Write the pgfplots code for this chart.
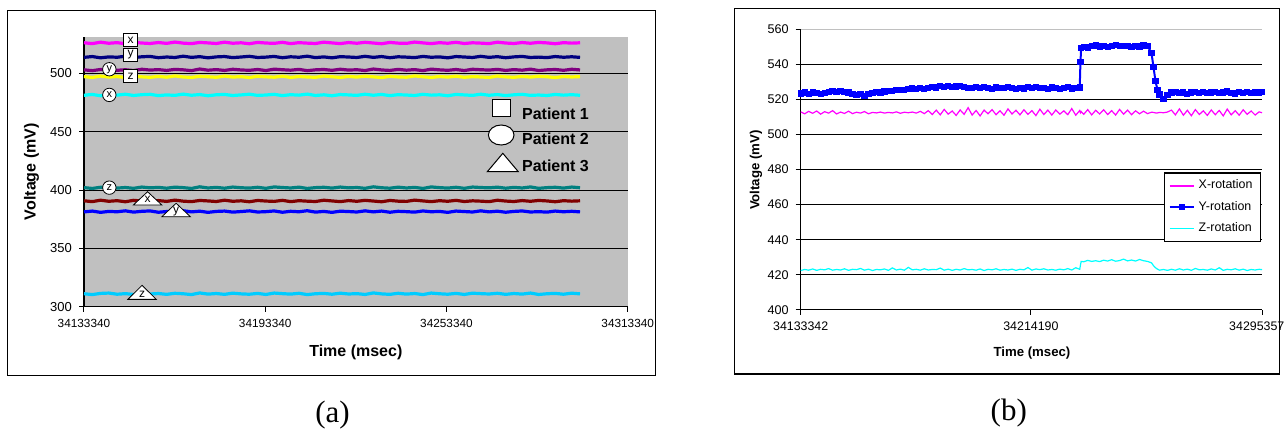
\documentclass[border=0pt]{standalone}
\usepackage{fontspec}
\setmainfont{Liberation Sans}
\newfontfamily\capfont{Liberation Serif}
\usepackage{pgfplots}
\usepackage{pgfplotstable}
\pgfplotsset{compat=1.18}

\definecolor{xmag}{RGB}{255,0,255}
\definecolor{xnavy}{RGB}{0,0,128}
\definecolor{xpurp}{RGB}{128,0,128}
\definecolor{xyel}{RGB}{255,255,0}
\definecolor{xcyan}{RGB}{0,255,255}
\definecolor{xteal}{RGB}{0,128,128}
\definecolor{xdred}{RGB}{128,0,0}
\definecolor{xblue}{RGB}{0,0,255}
\definecolor{xsky}{RGB}{0,204,255}
\definecolor{xgray}{RGB}{192,192,192}

% Panel (a): nine sensor channels (3 patients x 3 axes)
\pgfplotstableread{
t m n p yl c tl r b s
34133340 526.3 513.8 503.1 497.3 481.3 402.1 390.8 381.3 311.1
34136077 525.6 514.5 502.4 496.6 482.0 401.4 390.1 382.0 310.4
34138814 526.8 513.4 503.4 497.8 480.9 402.4 391.3 380.9 311.4
34141551 525.9 514.2 503.7 496.9 481.7 402.7 390.4 381.7 311.7
34144288 526.4 513.9 502.7 497.4 481.4 401.7 390.9 381.4 310.7
34147025 525.5 514.7 503.2 496.5 482.2 402.2 390.0 382.2 311.2
34149762 526.7 513.6 502.5 497.7 481.1 401.5 391.2 381.1 310.5
34152499 526.1 514.3 503.6 497.1 481.8 402.6 390.6 381.8 311.6
34155236 525.7 514.6 502.9 496.7 482.1 401.9 390.2 382.1 310.9
34157973 526.5 513.5 503.3 497.5 481.0 402.3 391.0 381.0 311.3
34160710 525.8 514.1 502.6 496.8 481.6 401.6 390.3 381.6 310.6
34163447 526.9 513.7 503.5 497.9 481.2 402.5 391.4 381.2 311.5
34166184 526.0 514.8 503.1 497.0 482.3 402.1 390.5 382.3 311.1
34168921 525.6 513.8 502.4 496.6 481.3 401.4 390.1 381.3 310.4
34171658 526.6 514.4 503.8 497.6 481.9 402.8 391.1 381.9 311.8
34174395 526.2 513.4 502.8 497.2 480.9 401.8 390.7 380.9 310.8
34177132 525.7 514.2 503.3 496.7 481.7 402.3 390.2 381.7 311.3
34179869 526.8 514.5 502.6 497.8 482.0 401.6 391.3 382.0 310.6
34182606 525.9 513.6 503.6 496.9 481.1 402.6 390.4 381.1 311.6
34185343 526.3 514.1 503.0 497.3 481.6 402.0 390.8 381.6 311.0
34188080 525.5 514.7 502.7 496.5 482.2 401.7 390.0 382.2 310.7
34190817 526.6 513.7 503.4 497.6 481.2 402.4 391.1 381.2 311.4
34193554 526.1 514.0 502.5 497.1 481.5 401.5 390.6 381.5 310.5
34196291 525.8 514.6 503.7 496.8 482.1 402.7 390.3 382.1 311.7
34199028 526.7 513.5 503.2 497.7 481.0 402.2 391.2 381.0 311.2
34201765 525.6 514.3 502.8 496.6 481.8 401.8 390.1 381.8 310.8
34204502 526.4 513.9 503.5 497.4 481.4 402.5 390.9 381.4 311.5
34207239 526.0 514.8 502.4 497.0 482.3 401.4 390.5 382.3 310.4
34209976 525.7 513.6 503.1 496.7 481.1 402.1 390.2 381.1 311.1
34212713 526.8 514.2 503.4 497.8 481.7 402.4 391.3 381.7 311.4
34215450 526.2 513.4 502.7 497.2 480.9 401.7 390.7 380.9 310.7
34218187 525.6 514.4 503.6 496.6 481.9 402.6 390.1 381.9 311.6
34220924 526.5 514.1 502.9 497.5 481.6 401.9 391.0 381.6 310.9
34223661 525.9 513.7 503.2 496.9 481.2 402.2 390.4 381.2 311.2
34226398 526.7 514.7 502.5 497.7 482.2 401.5 391.2 382.2 310.5
34229135 526.1 513.8 503.8 497.1 481.3 402.8 390.6 381.3 311.8
34231872 525.5 514.5 503.0 496.5 482.0 402.0 390.0 382.0 311.0
34234609 526.6 513.5 502.6 497.6 481.0 401.6 391.1 381.0 310.6
34237346 526.0 514.3 503.5 497.0 481.8 402.5 390.5 381.8 311.5
34240083 525.8 514.0 502.8 496.8 481.5 401.8 390.3 381.5 310.8
34242820 526.9 513.6 503.3 497.9 481.1 402.3 391.4 381.1 311.3
34245557 526.2 514.6 502.4 497.2 482.1 401.4 390.7 382.1 310.4
34248294 525.6 513.9 503.7 496.6 481.4 402.7 390.1 381.4 311.7
34251031 526.4 514.2 503.1 497.4 481.7 402.1 390.9 381.7 311.1
34253768 525.9 513.4 502.7 496.9 480.9 401.7 390.4 380.9 310.7
34256505 526.7 514.5 503.4 497.7 482.0 402.4 391.2 382.0 311.4
34259242 525.7 514.1 502.5 496.7 481.6 401.5 390.2 381.6 310.5
34261979 526.3 513.7 503.6 497.3 481.2 402.6 390.8 381.2 311.6
34264716 526.0 514.7 503.2 497.0 482.2 402.2 390.5 382.2 311.2
34267453 525.6 513.8 502.9 496.6 481.3 401.9 390.1 381.3 310.9
34270190 526.8 514.4 503.5 497.8 481.9 402.5 391.3 381.9 311.5
34272927 526.1 513.5 502.6 497.1 481.0 401.6 390.6 381.0 310.6
34275664 525.7 514.2 503.3 496.7 481.7 402.3 390.2 381.7 311.3
34278401 526.5 514.6 502.8 497.5 482.1 401.8 391.0 382.1 310.8
34281138 525.9 513.7 503.7 496.9 481.2 402.7 390.4 381.2 311.7
34283875 526.6 514.0 502.5 497.6 481.5 401.5 391.1 381.5 310.5
34286612 526.2 513.6 503.1 497.2 481.1 402.1 390.7 381.1 311.1
34289349 525.5 514.5 503.4 496.5 482.0 402.4 390.0 382.0 311.4
34292086 526.4 513.9 502.7 497.4 481.4 401.7 390.9 381.4 310.7
34294823 526.0 514.3 503.6 497.0 481.8 402.6 390.5 381.8 311.6
34297560 526.3 513.8 503.0 497.3 481.3 402.0 390.8 381.3 311.0
}\tableA

% Panel (b): X, Y, Z rotation
\pgfplotstableread{
t rx ry rz
34133342 512.9 523.4 422.4
34134742 511.8 523.9 423.0
34136142 513.2 523.2 422.6
34137542 512.1 524.0 423.3
34138942 513.4 523.6 422.5
34140342 511.6 523.1 423.1
34141742 513.0 523.8 422.8
34143142 512.2 524.3 423.5
34144542 513.6 524.6 422.6
34145942 511.7 524.1 423.0
34147342 512.8 524.8 422.7
34148742 512.0 524.4 423.4
34150142 513.3 523.9 422.5
34151542 511.9 523.3 423.1
34152942 512.7 522.6 422.9
34154342 512.2 522.9 423.6
34155742 513.1 521.8 422.6
34157142 511.8 523.0 423.2
34158542 512.6 523.6 422.4
34159942 512.3 524.2 423.0
34161342 512.8 523.9 422.8
34162742 512.2 524.5 423.3
34164142 512.6 524.9 422.5
34165542 512.3 524.6 423.9
34166942 512.9 525.2 422.7
34168342 512.1 525.6 423.2
34169742 512.7 525.3 422.6
34171142 512.4 525.9 424.2
34172542 512.8 526.2 422.8
34173942 512.2 525.8 423.1
34175342 513.2 526.4 422.6
34176742 511.9 526.1 423.4
34178142 513.6 526.7 422.7
34179542 511.4 527.3 423.0
34180942 513.9 526.8 422.9
34182342 511.2 527.5 423.8
34183742 514.3 527.0 422.6
34185142 511.6 527.6 423.2
34186542 513.4 526.9 422.5
34187942 510.9 527.4 423.1
34189342 514.0 527.8 422.7
34190742 511.5 527.1 423.5
34192142 515.3 526.7 422.8
34193542 511.1 526.3 423.0
34194942 513.7 526.9 422.6
34196342 510.6 526.4 423.3
34197742 513.9 527.2 422.4
34199142 511.8 526.5 423.1
34200542 514.2 526.1 422.8
34201942 511.3 526.8 423.4
34203342 513.5 526.3 422.6
34204742 511.0 526.6 423.0
34206142 514.6 527.3 422.7
34207542 511.7 526.4 423.2
34208942 513.8 526.0 422.5
34210342 511.2 526.7 423.1
34211742 514.1 526.2 422.8
34213142 511.5 526.9 424.1
34214542 513.6 526.5 422.6
34215942 510.8 527.0 423.3
34217342 514.4 526.3 422.9
34218742 511.4 526.6 423.4
34220142 513.9 526.1 422.7
34221542 511.1 526.8 423.0
34222942 514.0 526.4 422.6
34224342 511.6 525.9 423.2
34225742 513.5 526.5 422.8
34227142 511.3 527.1 423.5
34228542 514.8 526.2 422.7
34229942 511.0 526.6 424.0
34231342 513.7 526.8 423.1
34231592 512.4 541.3 425.5
34231842 513.1 549.2 427.6
34232742 511.5 550.1 427.4
34234142 514.2 549.6 428.2
34235542 511.2 550.4 427.6
34236942 513.8 550.8 428.0
34238342 511.7 550.2 427.5
34239742 514.1 550.6 428.3
34241142 511.4 549.9 427.8
34242542 513.6 550.5 428.6
34243942 511.1 550.9 427.7
34245342 514.3 550.3 428.1
34246742 511.6 550.7 428.9
34248142 513.9 550.4 427.9
34249542 511.3 550.0 428.4
34250942 513.5 550.6 427.8
34252342 511.8 550.2 428.7
34253742 513.3 550.8 428.0
34255142 511.9 550.5 427.6
34256542 512.7 546.5 426.8
34257242 512.6 538.5 425.2
34257942 512.3 530.5 424.0
34258642 512.3 525.5 423.2
34259342 512.6 522.8 422.6
34260742 512.4 520.4 423.0
34262142 512.8 522.6 422.5
34263542 513.9 523.9 423.1
34264942 511.2 524.2 422.6
34266342 514.6 523.6 423.4
34267742 511.0 524.0 422.7
34269142 513.8 523.3 423.2
34270542 510.7 523.9 422.5
34271942 514.2 524.4 423.6
34273342 511.4 523.7 422.8
34274742 513.5 524.1 423.0
34276142 510.9 523.5 422.6
34277542 514.0 523.9 423.3
34278942 511.3 524.3 422.7
34280342 513.7 523.6 424.0
34281742 510.6 524.0 422.5
34283142 514.5 524.5 423.1
34284542 511.2 523.7 422.8
34285942 513.6 523.4 423.4
34287342 511.0 524.1 422.6
34288742 514.1 523.8 423.2
34290142 511.5 524.2 422.4
34291542 513.4 523.6 423.0
34292942 511.1 524.0 422.7
34294342 512.9 523.9 423.1
34295357 512.4 524.1 422.9
}\tableB

\begin{document}
\begin{tikzpicture}
\useasboundingbox (0,0) rectangle (642.5pt,215pt);
\draw[line width=0.7pt] (3.65pt,27.15pt) rectangle (327.75pt,209.75pt);
\draw[line width=0.7pt] (367.35pt,28pt) rectangle (639.65pt,210.85pt);

% ---------------- panel (a) ----------------
\begin{axis}[
  at={(42pt,61.65pt)}, anchor=south west, scale only axis,
  width=271.85pt, height=134.7pt,
  xmin=34133340, xmax=34313340, ymin=300, ymax=531,
  axis lines=left, axis line style={-, line width=0.6pt, black},
  axis background/.style={fill=xgray},
  scaled x ticks=false, scaled y ticks=false,
  xtick={34133340,34193340,34253340,34313340},
  xticklabels={34133340,34193340,34253340,34313340},
  ytick={300,350,400,450,500},
  ymajorgrids, grid style={black, line width=0.5pt},
  tick align=outside, major tick length=2.5pt, tick style={black, line width=0.5pt},
  /pgf/number format/assume math mode=true,
  yticklabel style={font=\fontsize{6.5}{7}\selectfont},
  xticklabel style={font=\fontsize{5.9}{7}\selectfont},
  xlabel={Time (msec)}, ylabel={Voltage (mV)},
  label style={font=\fontsize{8}{9}\selectfont\bfseries},
  xlabel style={at={(axis description cs:0.5,-0.168)}, anchor=center},
  ylabel style={at={(axis description cs:-0.0964,0.501)}, anchor=center},
  clip=false,
]
\addplot[xnavy, line width=1.6pt, mark=none] table[x=t,y=n]{\tableA};
\addplot[xmag, line width=1.6pt, mark=none] table[x=t,y=m]{\tableA};
\addplot[xyel, line width=1.6pt, mark=none] table[x=t,y=yl]{\tableA};
\addplot[xcyan, line width=1.6pt, mark=none] table[x=t,y=c]{\tableA};
\addplot[xpurp, line width=1.6pt, mark=none] table[x=t,y=p]{\tableA};
\addplot[xdred, line width=1.6pt, mark=none] table[x=t,y=r]{\tableA};
\addplot[xteal, line width=1.6pt, mark=none] table[x=t,y=tl]{\tableA};
\addplot[xblue, line width=1.6pt, mark=none] table[x=t,y=b]{\tableA};
\addplot[xsky, line width=1.6pt, mark=none] table[x=t,y=s]{\tableA};

% Patient 1 (squares)
\node[draw, fill=white, line width=0.4pt, minimum width=7.2pt, minimum height=6.7pt, inner sep=0pt, font=\fontsize{6}{6}\selectfont] at (axis cs:34148755,528.7) {x};
\node[draw, fill=white, line width=0.4pt, minimum width=7.2pt, minimum height=6.7pt, inner sep=0pt, font=\fontsize{6}{6}\selectfont] at (axis cs:34148755,516.1) {y};
\node[draw, fill=white, line width=0.4pt, minimum width=7.2pt, minimum height=6.7pt, inner sep=0pt, font=\fontsize{6}{6}\selectfont] at (axis cs:34148755,497.9) {z};
% Patient 2 (circles)
\node[draw, fill=white, circle, line width=0.4pt, minimum size=6.7pt, inner sep=0pt, font=\fontsize{5.5}{6}\selectfont] at (axis cs:34141727,503.6) {y};
\node[draw, fill=white, circle, line width=0.4pt, minimum size=6.7pt, inner sep=0pt, font=\fontsize{5.5}{6}\selectfont] at (axis cs:34141727,481.6) {x};
\node[draw, fill=white, circle, line width=0.4pt, minimum size=6.7pt, inner sep=0pt, font=\fontsize{5.5}{6}\selectfont] at (axis cs:34141727,402.1) {z};
% Patient 3 (triangles)
\draw[fill=white, line width=0.4pt] (axis cs:34154390,387.2) ++(-7.1pt,0pt) -- ++(14.2pt,0pt) -- ++(-7.1pt,6.65pt) -- cycle;
\node[inner sep=0pt, yshift=2.6pt, font=\fontsize{6}{6}\selectfont] at (axis cs:34154390,387.2) {x};
\draw[fill=white, line width=0.4pt] (axis cs:34163838,377.2) ++(-7.1pt,0pt) -- ++(14.2pt,0pt) -- ++(-7.1pt,6.7pt) -- cycle;
\node[inner sep=0pt, yshift=2.6pt, font=\fontsize{6}{6}\selectfont] at (axis cs:34163838,377.2) {y};
\draw[fill=white, line width=0.4pt] (axis cs:34152567,306.3) ++(-7.1pt,0pt) -- ++(14.2pt,0pt) -- ++(-7.1pt,7pt) -- cycle;
\node[inner sep=0pt, yshift=2.6pt, font=\fontsize{6}{6}\selectfont] at (axis cs:34152567,306.3) {z};
\end{axis}

% patient key
\draw[fill=white, line width=0.5pt] (246.35pt,156.65pt) rectangle (255.35pt,165.35pt);
\node[anchor=west, inner sep=0pt, font=\fontsize{8}{9}\selectfont\bfseries] at (260.85pt,158.35pt) {Patient 1};
\draw[fill=white, line width=0.5pt] (250.6pt,147.5pt) ellipse (6.4pt and 5pt);
\node[anchor=west, inner sep=0pt, font=\fontsize{8}{9}\selectfont\bfseries] at (260.85pt,145.85pt) {Patient 2};
\draw[fill=white, line width=0.5pt] (243.65pt,129.15pt) -- (259.15pt,129.15pt) -- (251.4pt,138.35pt) -- cycle;
\node[anchor=west, inner sep=0pt, font=\fontsize{8}{9}\selectfont\bfseries] at (260.85pt,132pt) {Patient 3};

% ---------------- panel (b) ----------------
\begin{axis}[
  at={(400.35pt,60.1pt)}, anchor=south west, scale only axis,
  width=230.65pt, height=140.25pt,
  xmin=34133342, xmax=34295357, ymin=400, ymax=560,
  axis lines=left, axis line style={-, line width=0.6pt, black},
  scaled x ticks=false, scaled y ticks=false,
  xtick={34133342,34214190},
  xticklabels={34133342,34214190},
  extra x ticks={34295357},
  extra x tick labels={34295357},
  extra x tick style={xticklabel style={xshift=-2.6pt}},
  ytick={400,420,440,460,480,500,520,540},
  extra y ticks={560},
  extra y tick style={grid style={xgray, line width=0.5pt}},
  ymajorgrids, grid style={black, line width=0.5pt},
  tick align=outside, major tick length=2.5pt, tick style={black, line width=0.5pt},
  /pgf/number format/assume math mode=true,
  yticklabel style={font=\fontsize{6.3}{7}\selectfont},
  xticklabel style={font=\fontsize{6.2}{7}\selectfont},
  xlabel={Time (msec)}, ylabel={Voltage (mV)},
  label style={font=\fontsize{6.6}{8}\selectfont\bfseries},
  xlabel style={at={(axis description cs:0.5014,-0.153)}, anchor=center},
  ylabel style={at={(axis description cs:-0.0969,0.498)}, anchor=center},
  legend style={at={(0.998,0.49)}, anchor=north east, draw=black, line width=0.6pt,
    font=\fontsize{6.2}{7}\selectfont, row sep=0.6pt, inner xsep=2pt, inner ysep=1.5pt},
  legend cell align=left,
  legend image code/.code={\draw[mark repeat=2,mark phase=2] plot coordinates {(0pt,0pt) (6pt,0pt) (12pt,0pt)};},
]
\addplot[xmag, line width=0.6pt, mark=none] table[x=t,y=rx]{\tableB};
\addlegendentry{X-rotation}
\addplot[xblue, line width=1pt, mark=square*, mark size=1.05pt] table[x=t,y=ry]{\tableB};
\addlegendentry{Y-rotation}
\addplot[xcyan, line width=0.6pt, mark=none] table[x=t,y=rz]{\tableB};
\addlegendentry{Z-rotation}
\end{axis}

\node[font=\capfont\fontsize{15.5}{17}\selectfont] at (166.25pt,7.5pt) {(a)};
\node[font=\capfont\fontsize{15.5}{17}\selectfont] at (504.4pt,8.35pt) {(b)};
\end{tikzpicture}
\end{document}
